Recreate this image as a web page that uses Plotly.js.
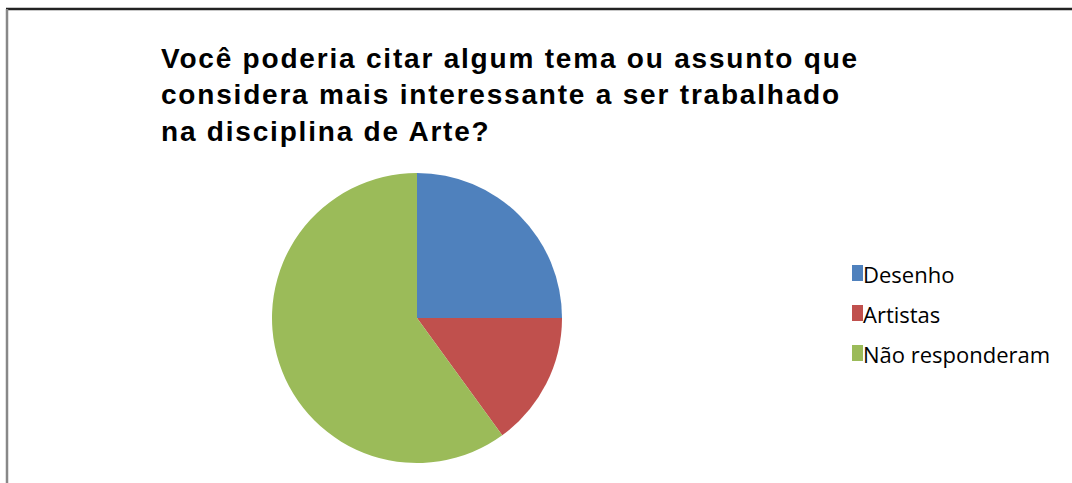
<!DOCTYPE html>
<html><head><meta charset="utf-8">
<script src="https://cdn.plot.ly/plotly-3.0.1.min.js"></script>
<style>html,body{margin:0;padding:0;background:#fff}#c{width:1072px;height:483px}
.gtitle{letter-spacing:1.8px}</style>
</head><body><div id="c"></div>
<script>
const categories = ["Desenho", "Artistas", "Não responderam"];
const values = [25, 15, 60];
const colors = ["#4F81BD", "#C0504D", "#9BBB59"];
const titleText = "Você poderia citar algum tema ou assunto que<br>considera mais interessante a ser trabalhado<br>na disciplina de Arte?";

const W = 1072, H = 483;
const cx = 417, cy = 318, r = 145;
const data = [{
  type: "pie",
  labels: categories,
  values: values,
  sort: false,
  direction: "clockwise",
  rotation: 0,
  textinfo: "none",
  hoverinfo: "label+percent",
  marker: {colors: colors, line: {width: 0}},
  domain: {x: [(cx - r) / W, (cx + r) / W], y: [(H - cy - r) / H, (H - cy + r) / H]}
}];

// legend drawn from the category and colour arrays
const legX = 852, legY0 = 273, legStep = 40;
const legendShapes = categories.map((c, i) => ({
  type: "rect", xref: "paper", yref: "paper",
  x0: legX / W, x1: (legX + 11) / W,
  y0: 1 - (legY0 + i * legStep + 8) / H, y1: 1 - (legY0 + i * legStep - 8) / H,
  fillcolor: colors[i], line: {width: 0}
}));
const legendAnns = categories.map((c, i) => ({
  text: c, xref: "paper", yref: "paper", showarrow: false,
  x: (legX + 9) / W, xanchor: "left",
  y: 1 - (legY0 + i * legStep + 1) / H, yanchor: "middle",
  font: {family: "Open Sans, sans-serif", size: 22, color: "#000"}
}));

const layout = {
  width: W, height: H,
  margin: {l: 0, r: 0, t: 0, b: 0},
  paper_bgcolor: "#fff",
  showlegend: false,
  title: {
    text: "<b>" + titleText + "</b>",
    x: 161 / W, xanchor: "left", xref: "paper",
    y: 1 - 68 / H, yanchor: "top", yref: "paper",
    font: {family: "Liberation Sans, Arial, sans-serif", size: 28, color: "#000"}
  },
  annotations: legendAnns,
  shapes: [
    {type: "line", xref: "paper", yref: "paper", x0: 6 / W, x1: 1, y0: 1 - 9 / H, y1: 1 - 9 / H, line: {color: "#222", width: 2.5}},
    {type: "line", xref: "paper", yref: "paper", x0: 7 / W, x1: 7 / W, y0: 0, y1: 1 - 9 / H, line: {color: "#888", width: 2.5}}
  ].concat(legendShapes)
};
Plotly.newPlot("c", data, layout, {displayModeBar: false});
</script></body></html>
